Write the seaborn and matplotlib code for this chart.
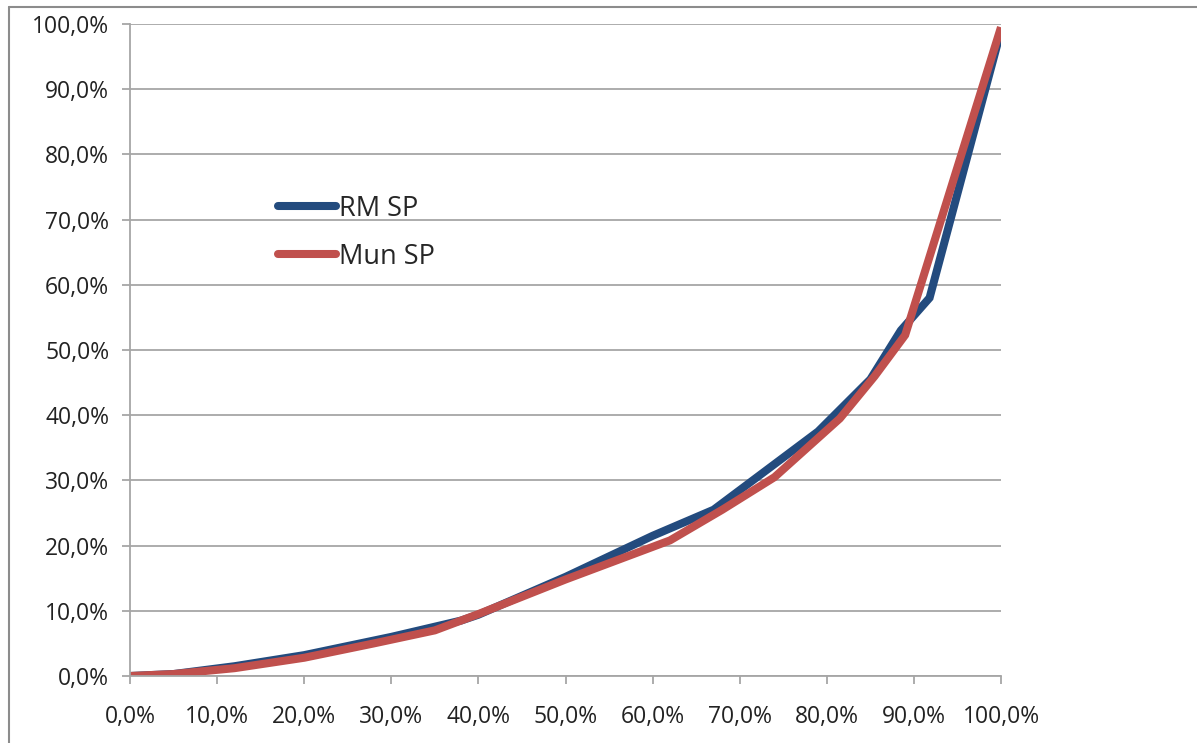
import matplotlib
matplotlib.use("Agg")
import matplotlib.pyplot as plt
from matplotlib.lines import Line2D
from matplotlib.ticker import FuncFormatter, MultipleLocator
import seaborn as sns
import pandas as pd

# Cumulative share of population (x) vs cumulative share of income (y), in %
rm_x = [0, 5, 12, 20, 30, 38, 40, 50, 60, 67, 73, 79, 85, 88.5, 91.8, 100]
rm_y = [0, 0.3, 1.5, 3.2, 6.0, 8.5, 9.4, 15.2, 21.5, 25.5, 31.5, 37.5, 45.5, 53.0, 58.0, 99.0]

mun_x = [0, 5, 12, 20, 28, 35, 40, 50, 62, 68, 74, 81.5, 85.5, 89, 100]
mun_y = [0, 0.3, 1.2, 2.8, 5.0, 7.0, 9.5, 14.8, 20.8, 25.5, 30.5, 39.5, 46.0, 52.3, 99.5]

series_names = ["RM SP", "Mun SP"]
series_colors = ["#234B7E", "#C0504D"]

df = pd.concat([
    pd.DataFrame({"x": rm_x, "y": rm_y, "serie": series_names[0]}),
    pd.DataFrame({"x": mun_x, "y": mun_y, "serie": series_names[1]}),
], ignore_index=True)

sns.set_style("white")
plt.rcParams["font.family"] = ["Open Sans", "DejaVu Sans"]

fig = plt.figure(figsize=(11.97, 7.43), dpi=100)
ax = fig.add_axes([130 / 1197, 1 - 676 / 743, 871 / 1197, 652 / 743])

lw = 5.8
sns.lineplot(data=df, x="x", y="y", hue="serie", palette=dict(zip(series_names, series_colors)),
             sort=False, estimator=None, linewidth=lw, legend=False, ax=ax,
             solid_joinstyle="miter", solid_capstyle="butt")

ax.set_xlim(0, 100)
ax.set_ylim(0, 100)
ax.xaxis.set_major_locator(MultipleLocator(10))
ax.yaxis.set_major_locator(MultipleLocator(10))
pct = FuncFormatter(lambda v, _: f"{v:.1f}%".replace(".", ","))
ax.xaxis.set_major_formatter(pct)
ax.yaxis.set_major_formatter(pct)
ax.set_xlabel("")
ax.set_ylabel("")

grid_color = "#A6A6A6"
ax.grid(axis="y", color=grid_color, linewidth=1.3)
ax.grid(axis="x", visible=False)
ax.set_axisbelow(True)
for side in ["top", "right"]:
    ax.spines[side].set_visible(False)
for side in ["left", "bottom"]:
    ax.spines[side].set_color(grid_color)
    ax.spines[side].set_linewidth(1.3)
ax.tick_params(axis="both", which="major", direction="out", length=6, width=1.3,
               color=grid_color, labelsize=16.5, labelcolor="#222222", pad=9,
               bottom=True, left=True)
ax.tick_params(axis="x", pad=15)

handles = [Line2D([0], [0], color=c, linewidth=lw, solid_capstyle="round") for c in series_colors]
ax.legend(handles, series_names, loc="upper left", bbox_to_anchor=(0.157, 0.755),
          frameon=False, fontsize=19.5, handlelength=2.15, handletextpad=0.1,
          labelspacing=0.75, borderaxespad=0)

# chart frame
fig.add_artist(Line2D([9 / 1197, 9 / 1197], [0, 1 - 7 / 743], transform=fig.transFigure,
                      color="#8C8C8C", linewidth=1.5))
fig.add_artist(Line2D([9 / 1197, 1], [1 - 7 / 743, 1 - 7 / 743], transform=fig.transFigure,
                      color="#8C8C8C", linewidth=1.5))

fig.savefig("out.png", dpi=100)
